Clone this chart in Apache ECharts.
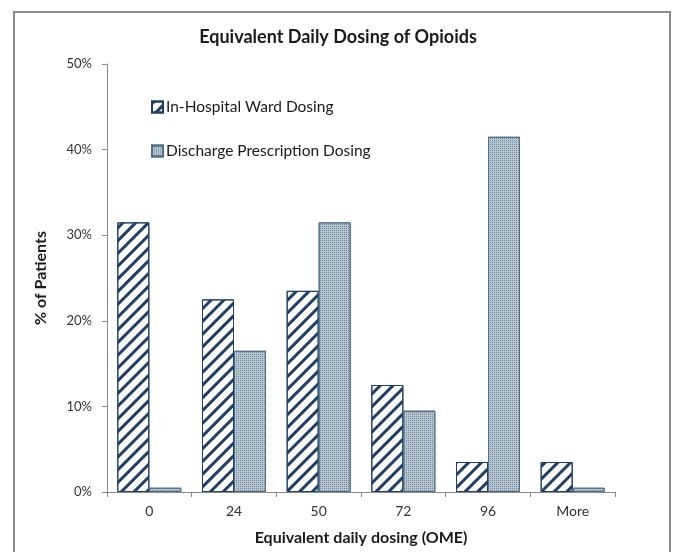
<!DOCTYPE html>
<html><head><meta charset="utf-8">
<script src="https://cdn.jsdelivr.net/npm/echarts@6/dist/echarts.min.js"></script>
<style>html,body{margin:0;padding:0;background:#fff}#c{width:676px;height:552px}</style>
</head><body><div id="c"></div>
<script>
const categories = ['0', '24', '50', '72', '96', 'More'];
const wardDosing = [31.5, 22.5, 23.5, 12.5, 3.5, 3.5];
const dischargeDosing = [0.5, 16.5, 31.5, 9.5, 41.5, 0.5];
const yTicks = [0, 10, 20, 30, 40, 50];

const font = 'Lato, "Open Sans", sans-serif';
const chart = echarts.init(document.getElementById('c'));
chart.setOption({
  animation: false,
  backgroundColor: '#fff',
  graphic: [{
    type: 'rect', shape: {x: 14, y: 12, width: 656, height: 600},
    style: {fill: 'none', stroke: '#8a8a8a', lineWidth: 2}, silent: true, z: -1
  }],
  title: {
    text: 'Equivalent Daily Dosing of Opioids', left: 'center', top: 23,
    textStyle: {fontFamily: font, fontSize: 18, fontWeight: 'bold', color: '#1a1a1a'}
  },
  legend: {
    orient: 'vertical', left: 146, top: 94, itemGap: 28, itemWidth: 11, itemHeight: 11,
    icon: 'rect',
    textStyle: {fontFamily: font, fontSize: 15.5, color: '#1a1a1a', padding: [0,0,0,-2]}
  },
  grid: {left: 107, right: 61, top: 64, bottom: 60},
  xAxis: {
    type: 'category', data: categories,
    name: 'Equivalent daily dosing (OME)', nameLocation: 'middle', nameGap: 38,
    nameTextStyle: {fontFamily: font, fontSize: 16, fontWeight: 'bold', color: '#1a1a1a'},
    axisLine: {lineStyle: {color: '#8a8a8a', width: 1}},
    axisTick: {show: true, alignWithLabel: false, length: 5, lineStyle: {color: '#8a8a8a'}},
    axisLabel: {fontFamily: font, fontSize: 14, color: '#333', margin: 12}
  },
  yAxis: {
    type: 'value', min: yTicks[0], max: yTicks[yTicks.length - 1], interval: 10,
    name: '% of Patients', nameLocation: 'middle', nameGap: 58,
    nameTextStyle: {fontFamily: font, fontSize: 16, fontWeight: 'bold', color: '#1a1a1a'},
    axisLine: {show: true, lineStyle: {color: '#8a8a8a', width: 1}},
    axisTick: {show: true, length: 5, lineStyle: {color: '#8a8a8a'}},
    splitLine: {show: false},
    axisLabel: {fontFamily: font, fontSize: 13, color: '#333', margin: 15, formatter: '{value}%'}
  },
  series: [{
    name: 'In-Hospital Ward Dosing', type: 'bar', data: wardDosing,
    barWidth: 32, barGap: '0%',
    itemStyle: {
      color: '#ffffff', borderColor: '#1f3f66', borderWidth: 1,
      decal: {symbol: 'rect', symbolSize: 1, dashArrayX: [1, 0], dashArrayY: [2.5, 6],
              rotation: -Math.PI / 4, color: '#1f3f66'}
    }
  }, {
    name: 'Discharge Prescription Dosing', type: 'bar', data: dischargeDosing,
    barWidth: 32,
    itemStyle: {
      color: '#b8c6d0', borderColor: '#4d6e8a', borderWidth: 1,
      decal: {symbol: 'rect', symbolSize: 1, dashArrayX: [1, 1], dashArrayY: [1, 1],
              rotation: 0, color: '#6f889c'}
    }
  }]
});
</script></body></html>
